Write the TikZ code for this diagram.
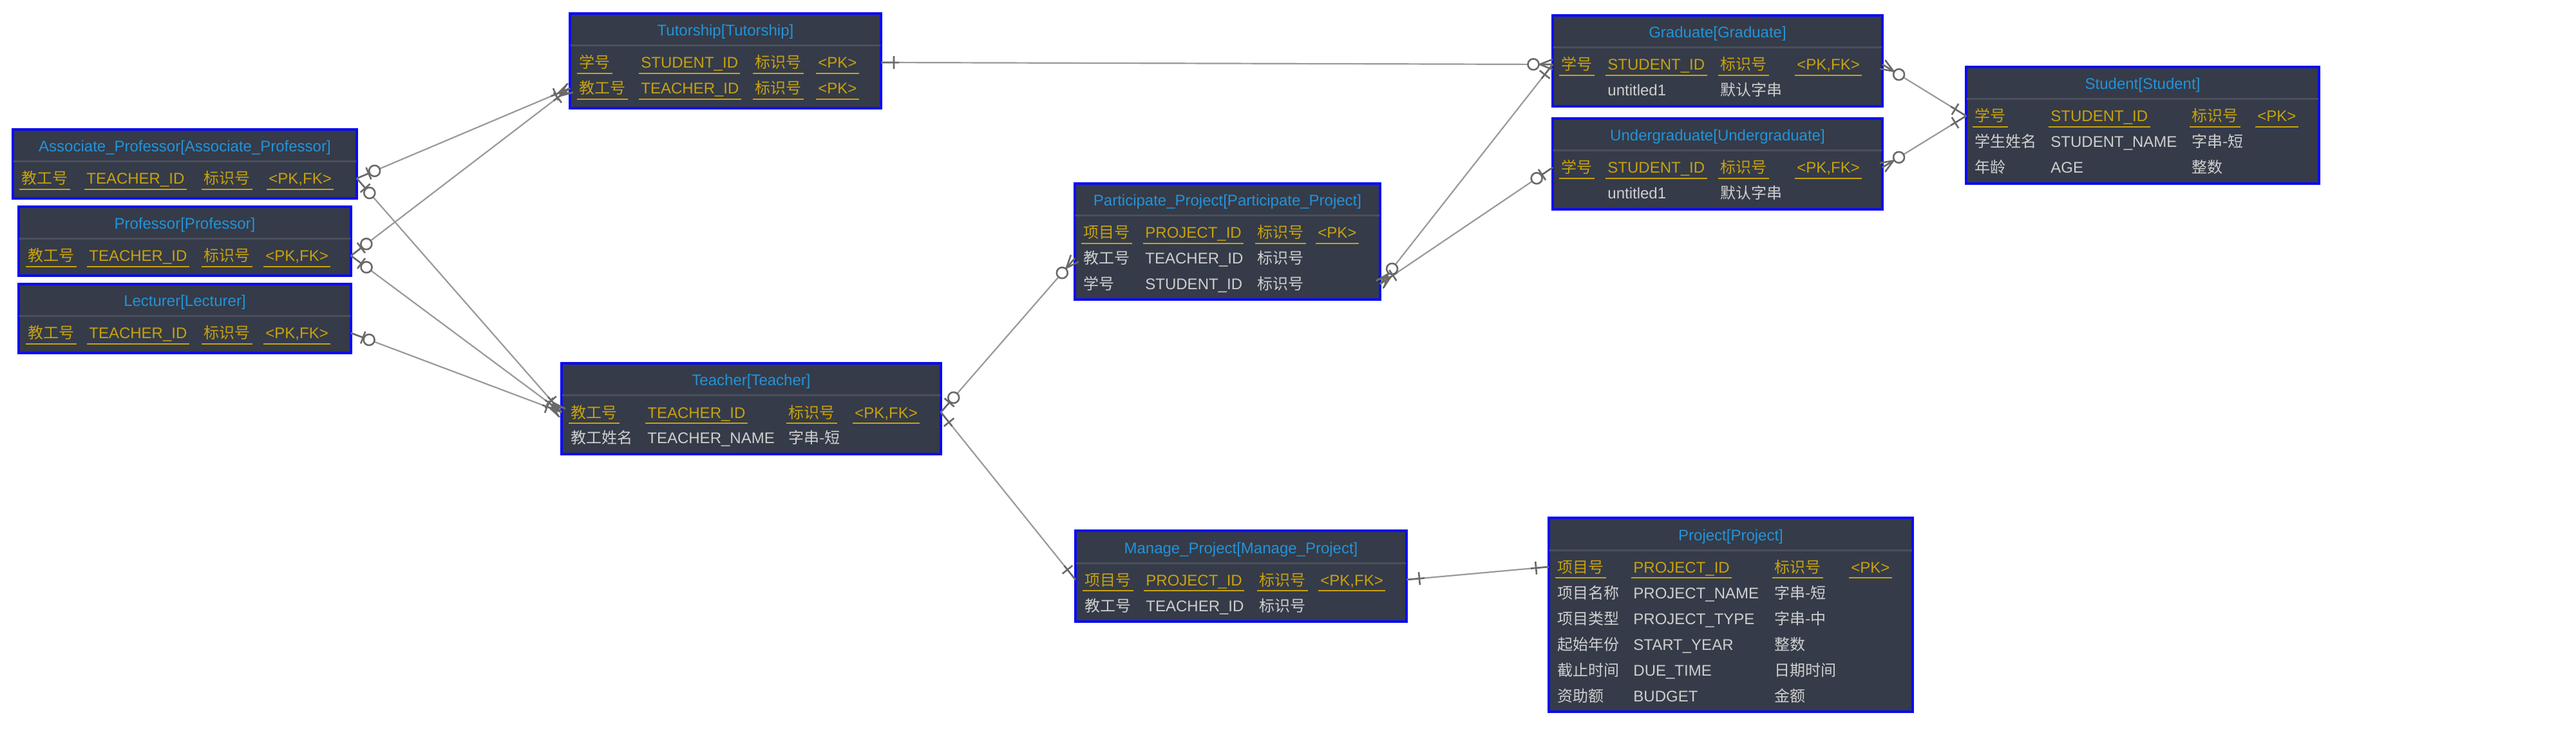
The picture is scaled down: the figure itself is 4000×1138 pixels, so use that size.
\documentclass[tikz,border=0pt]{standalone}
\usepackage{fontspec}
\setmainfont{Liberation Sans}
\newfontfamily\cjk{Noto Sans CJK SC}
\usetikzlibrary{calc}
\definecolor{boxfill}{HTML}{353B48}
\definecolor{boxborder}{HTML}{0A0AF5}
\definecolor{divcol}{HTML}{4A4F5B}
\definecolor{titleblue}{HTML}{2393D8}
\definecolor{gold}{HTML}{C8A20E}
\definecolor{lgray}{HTML}{CFCFCF}
\definecolor{conncol}{HTML}{9A9A9A}
\definecolor{mkcol}{HTML}{6A6A6A}
\newcommand{\zh}[1]{{\cjk #1}}
\tikzset{
  ebox/.style={draw=boxborder, line width=1.6pt, fill=boxfill, inner sep=0pt, outer sep=0pt, anchor=north west},
  divl/.style={draw=divcol, line width=1.5pt},
  ttl/.style={text=titleblue, anchor=base, inner sep=0pt, font=\fontsize{12}{14}\selectfont},
  keyf/.style={text=gold, anchor=base west, inner sep=0pt, font=\fontsize{12}{14}\selectfont},
  normf/.style={text=lgray, anchor=base west, inner sep=0pt, font=\fontsize{12}{14}\selectfont},
  uline/.style={draw=gold, line width=1.4pt},
  conn/.style={draw=conncol, line width=1.1pt},
  mk/.style={draw=mkcol, line width=1.3pt},
}
\newcommand{\entity}[6]{%
  \node[ebox, minimum width={(#4-#2)*0.5pt}, minimum height={(#5-#3)*0.5pt}] (#1) at (#2,#3) {};
  \draw[divl] (#2+1,#3+50) -- (#4-1,#3+50);
  \node[ttl] (#1-t) at ({(#2+#4)/2},#3+35) {#6};
}
\newcommand{\kf}[4]{%
  \node[keyf] (#1) at (#2,#3+9) {#4};
  \draw[uline] ([xshift=-1.5pt,yshift=-4pt]#1.base west) -- ([xshift=1.5pt,yshift=-4pt]#1.base east);
}
\newcommand{\nf}[4]{\node[normf] (#1) at (#2,#3+9) {#4};}
\newcommand{\krow}[6]{\kf{#1-a}{\ca}{#2}{#3}\kf{#1-b}{\cb}{#2}{#4}\kf{#1-c}{\cc}{#2}{#5}\kf{#1-d}{\cd}{#2}{#6}}
\newcommand{\nrow}[5]{\nf{#1-a}{\ca}{#2}{#3}\nf{#1-b}{\cb}{#2}{#4}\nf{#1-c}{\cc}{#2}{#5}}
% end markers
\newcommand{\mzo}[2]{%
  \coordinate (mP) at ($(#1)!10pt!(#2)$);
  \draw[mk] (#1) -- ($(#1)!11pt!(#2)$);
  \draw[mk] ($(mP)!5pt!90:(#2)$) -- ($(mP)!5pt!-90:(#2)$);
  \draw[mk,fill=white] ($(#1)!15pt!(#2)$) circle (4.25pt);
}
\newcommand{\mone}[2]{%
  \coordinate (mP) at ($(#1)!10pt!(#2)$);
  \draw[mk] (#1) -- ($(#1)!14pt!(#2)$);
  \draw[mk] ($(mP)!5pt!90:(#2)$) -- ($(mP)!5pt!-90:(#2)$);
}
\newcommand{\mcfb}[2]{%
  \coordinate (mH) at ($(#1)!10pt!(#2)$);
  \coordinate (mP) at ($(#1)!12pt!(#2)$);
  \draw[mk] ($(#1)!4pt!90:(#2)$) -- (mH) -- ($(#1)!4pt!-90:(#2)$);
  \draw[mk] (#1) -- ($(#1)!16pt!(#2)$);
  \draw[mk] ($(mP)!5pt!90:(#2)$) -- ($(mP)!5pt!-90:(#2)$);
}
\newcommand{\mcfc}[2]{%
  \coordinate (mH) at ($(#1)!10pt!(#2)$);
  \draw[mk] ($(#1)!4pt!90:(#2)$) -- (mH) -- ($(#1)!4pt!-90:(#2)$);
  \draw[mk] (#1) -- ($(#1)!11pt!(#2)$);
  \draw[mk,fill=white] ($(#1)!15pt!(#2)$) circle (4.25pt);
}
\begin{document}
\begin{tikzpicture}[x=0.5pt,y=-0.5pt]
\path[use as bounding box, fill=white] (0,0) rectangle (4000,1138);

% Tutorship
\entity{tut}{885}{21}{1368}{168}{Tutorship[Tutorship]}
\def\ca{899}\def\cb{995}\def\cc{1172}\def\cd{1270}
\krow{tut-1}{97}{\zh{学号}}{STUDENT\_ID}{\zh{标识号}}{<PK>}
\krow{tut-2}{137}{\zh{教工号}}{TEACHER\_ID}{\zh{标识号}}{<PK>}

% Associate_Professor
\entity{asc}{20}{201}{554}{308}{Associate\_Professor[Associate\_Professor]}
\def\ca{33}\def\cb{134}\def\cc{316}\def\cd{417}
\krow{asc-1}{277}{\zh{教工号}}{TEACHER\_ID}{\zh{标识号}}{<PK,FK>}

% Professor
\entity{pro}{29}{321}{545}{428}{Professor[Professor]}
\def\ca{43}\def\cb{138}\def\cc{316}\def\cd{412}
\krow{pro-1}{397}{\zh{教工号}}{TEACHER\_ID}{\zh{标识号}}{<PK,FK>}

% Lecturer
\entity{lec}{29}{441}{545}{548}{Lecturer[Lecturer]}
\krow{lec-1}{517}{\zh{教工号}}{TEACHER\_ID}{\zh{标识号}}{<PK,FK>}

% Teacher
\entity{tea}{872}{564}{1461}{705}{Teacher[Teacher]}
\def\ca{886}\def\cb{1005}\def\cc{1224}\def\cd{1327}
\krow{tea-1}{640}{\zh{教工号}}{TEACHER\_ID}{\zh{标识号}}{<PK,FK>}
\nrow{tea-2}{680}{\zh{教工姓名}}{TEACHER\_NAME}{\zh{字串-短}}

% Participate_Project
\entity{par}{1669}{285}{2143}{465}{Participate\_Project[Participate\_Project]}
\def\ca{1682}\def\cb{1778}\def\cc{1952}\def\cd{2046}
\krow{par-1}{361}{\zh{项目号}}{PROJECT\_ID}{\zh{标识号}}{<PK>}
\nrow{par-2}{401}{\zh{教工号}}{TEACHER\_ID}{\zh{标识号}}
\nrow{par-3}{441}{\zh{学号}}{STUDENT\_ID}{\zh{标识号}}

% Manage_Project
\entity{man}{1670}{824}{2184}{965}{Manage\_Project[Manage\_Project]}
\def\ca{1684}\def\cb{1779}\def\cc{1955}\def\cd{2050}
\krow{man-1}{900}{\zh{项目号}}{PROJECT\_ID}{\zh{标识号}}{<PK,FK>}
\nrow{man-2}{940}{\zh{教工号}}{TEACHER\_ID}{\zh{标识号}}

% Graduate
\entity{gra}{2411}{24}{2923}{165}{Graduate[Graduate]}
\def\ca{2424}\def\cb{2496}\def\cc{2671}\def\cd{2790}
\krow{gra-1}{100}{\zh{学号}}{STUDENT\_ID}{\zh{标识号}}{<PK,FK>}
\nf{gra-2-b}{\cb}{140}{untitled1}
\nf{gra-2-c}{\cc}{140}{\zh{默认字串}}

% Undergraduate
\entity{und}{2411}{184}{2923}{325}{Undergraduate[Undergraduate]}
\krow{und-1}{260}{\zh{学号}}{STUDENT\_ID}{\zh{标识号}}{<PK,FK>}
\nf{und-2-b}{\cb}{300}{untitled1}
\nf{und-2-c}{\cc}{300}{\zh{默认字串}}

% Student
\entity{stu}{3053}{104}{3601}{285}{Student[Student]}
\def\ca{3066}\def\cb{3184}\def\cc{3403}\def\cd{3505}
\krow{stu-1}{180}{\zh{学号}}{STUDENT\_ID}{\zh{标识号}}{<PK>}
\nrow{stu-2}{220}{\zh{学生姓名}}{STUDENT\_NAME}{\zh{字串-短}}
\nrow{stu-3}{260}{\zh{年龄}}{AGE}{\zh{整数}}

% Project
\entity{prj}{2405}{804}{2970}{1105}{Project[Project]}
\def\ca{2418}\def\cb{2536}\def\cc{2755}\def\cd{2874}
\krow{prj-1}{880}{\zh{项目号}}{PROJECT\_ID}{\zh{标识号}}{<PK>}
\nrow{prj-2}{920}{\zh{项目名称}}{PROJECT\_NAME}{\zh{字串-短}}
\nrow{prj-3}{960}{\zh{项目类型}}{PROJECT\_TYPE}{\zh{字串-中}}
\nrow{prj-4}{1000}{\zh{起始年份}}{START\_YEAR}{\zh{整数}}
\nrow{prj-5}{1040}{\zh{截止时间}}{DUE\_TIME}{\zh{日期时间}}
\nrow{prj-6}{1080}{\zh{资助额}}{BUDGET}{\zh{金额}}

% connector anchor points
\coordinate (asc-e) at ($(asc.north east)+(0,76)$);
\coordinate (pro-e) at ($(pro.north east)+(0,76)$);
\coordinate (lec-e) at ($(lec.north east)+(0,76)$);
\coordinate (tut-w) at ($(tut.north west)+(0,116)$);
\coordinate (tut-e) at ($(tut.north east)+(0,76)$);
\coordinate (tea-w) at ($(tea.north west)+(0,76)$);
\coordinate (tea-e) at ($(tea.north east)+(0,76)$);
\coordinate (par-w) at ($(par.north west)+(0,116)$);
\coordinate (par-e) at ($(par.north east)+(0,156)$);
\coordinate (man-w) at ($(man.north west)+(0,76)$);
\coordinate (man-e) at ($(man.north east)+(0,76)$);
\coordinate (prj-w) at ($(prj.north west)+(0,76)$);
\coordinate (gra-w) at ($(gra.north west)+(0,76)$);
\coordinate (gra-e) at ($(gra.north east)+(0,76)$);
\coordinate (und-w) at ($(und.north west)+(0,76)$);
\coordinate (und-e) at ($(und.north east)+(0,76)$);
\coordinate (stu-w) at ($(stu.north west)+(0,76)$);

% connectors
\draw[conn] (asc-e) -- (tut-w);
\draw[conn] (pro-e) -- (tut-w);
\draw[conn] (asc-e) -- (tea-w);
\draw[conn] (pro-e) -- (tea-w);
\draw[conn] (lec-e) -- (tea-w);
\draw[conn] (tut-e) -- (gra-w);
\draw[conn] (tea-e) -- (par-w);
\draw[conn] (tea-e) -- (man-w);
\draw[conn] (man-e) -- (prj-w);
\draw[conn] (par-e) -- (gra-w);
\draw[conn] (par-e) -- (und-w);
\draw[conn] (gra-e) -- (stu-w);
\draw[conn] (und-e) -- (stu-w);

% markers
\mzo{asc-e}{tut-w} \mcfb{tut-w}{asc-e}
\mzo{pro-e}{tut-w} \mcfb{tut-w}{pro-e}
\mzo{asc-e}{tea-w} \mcfb{tea-w}{asc-e}
\mzo{pro-e}{tea-w} \mcfb{tea-w}{pro-e}
\mzo{lec-e}{tea-w} \mcfb{tea-w}{lec-e}
\mone{tut-e}{gra-w} \mcfc{gra-w}{tut-e}
\mzo{tea-e}{par-w} \mcfc{par-w}{tea-e}
\mone{tea-e}{man-w} \mone{man-w}{tea-e}
\mone{man-e}{prj-w} \mone{prj-w}{man-e}
\mcfc{par-e}{gra-w} \mone{gra-w}{par-e}
\mcfb{par-e}{und-w} \mzo{und-w}{par-e}
\mcfc{gra-e}{stu-w} \mone{stu-w}{gra-e}
\mcfc{und-e}{stu-w} \mone{stu-w}{und-e}
\end{tikzpicture}
\end{document}
